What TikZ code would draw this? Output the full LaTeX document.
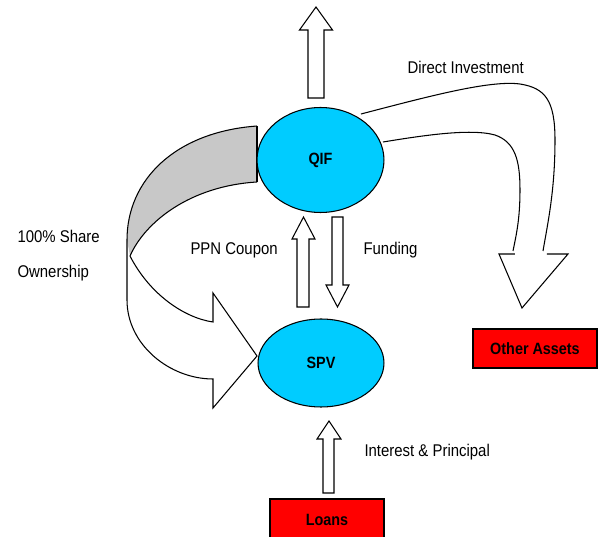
\documentclass[tikz,border=0pt]{standalone}
\usepackage{fontspec}
\setmainfont[FakeStretch=0.88]{Liberation Sans}
\usetikzlibrary{shapes.geometric}
\definecolor{fundblue}{RGB}{0,204,255}
\definecolor{ribbongray}{RGB}{200,200,200}
\tikzset{
  entity/.style={ellipse, draw, fill=fundblue, inner sep=0pt, font=\fontsize{9.3}{11}\selectfont\bfseries},
  assetbox/.style={rectangle, draw, fill=red, inner sep=0pt, font=\fontsize{9.3}{11}\selectfont\bfseries},
  lbl/.style={inner sep=0pt, anchor=west, font=\fontsize{9.66}{11}\selectfont},
  blockarrow/.style={draw, fill=white, line join=miter},
}
\begin{document}
\begin{tikzpicture}[x=0.02cm, y=-0.02cm, line width=0.6pt]
		\useasboundingbox (0,0) rectangle (600,537);
		\clip (0,0) rectangle (600,537);
		% Eierskap: grå bakside av båndet
		\fill[ribbongray] (257,126) .. controls (175,132) and (127,180) .. (127,240)
			-- (130,256) .. controls (145,222) and (190,186) .. (257,182) -- cycle;
		\draw (257,126) -- (257,182);
		% Eierskap: buet blokkpil
		\draw (257,126) .. controls (175,132) and (127,180) .. (127,240)
			-- (127,300) .. controls (127,345) and (170,379) .. (213,379)
			-- (213,408) -- (257,356) -- (213,293) -- (213,322)
			.. controls (185,318) and (150,295) .. (130,256)
			.. controls (145,222) and (190,186) .. (257,182);
		% Enheter
		\node[entity, minimum width=2.54cm, minimum height=2.1cm] (qif) at (320.5,160) {QIF};
		\node[entity, minimum width=2.52cm, minimum height=1.76cm] (spv) at (321,363) {SPV};
		\node[assetbox, minimum width=2.28cm, minimum height=0.84cm] (loans) at (327,520) {Loans};
		\node[assetbox, minimum width=2.48cm, minimum height=0.78cm] (assets) at (535,348.5) {Other Assets};
		% Pil opp fra QIF
		\draw[blockarrow] (308,98) -- (308,30) -- (299.5,30) -- (316,7) -- (332.5,30) -- (324,30) -- (324,98) -- cycle;
		% PPN-kupong og finansiering
		\draw[blockarrow] (297,307) -- (297,239) -- (292,239) -- (303.5,217) -- (315,239) -- (309,239) -- (309,307) -- cycle;
		\draw[blockarrow] (332,217) -- (332,285) -- (326,285) -- (337.5,307) -- (349,285) -- (343,285) -- (343,217) -- cycle;
		% Renter og avdrag
		\draw[blockarrow] (323,493) -- (323,439) -- (317,439) -- (329,421) -- (341,439) -- (334,439) -- (334,493) -- cycle;
		% Direkte investering
		\draw (361,114) .. controls (430,96) and (490,80) .. (520,84)
			.. controls (545,88) and (555,100) .. (555,140)
			.. controls (555,190) and (548,222) .. (543,251);
		\draw (383,142) .. controls (420,136) and (470,128) .. (495,135)
			.. controls (515,142) and (520,160) .. (520,190)
			.. controls (520,220) and (516,236) .. (513,251);
		\draw[line join=miter] (515,254) -- (499,254) -- (522,308) -- (568,254) -- (547,254);
		% Tekster
		\node[lbl, align=left, font=\fontsize{9.66}{19.8}\selectfont] (share) at (17,256) {100\% Share\\Ownership};
		\node[lbl] (ppn) at (190,250) {PPN Coupon};
		\node[lbl] (funding) at (363,250) {Funding};
		\node[lbl] (interest) at (364,452) {Interest \& Principal};
		\node[lbl] (direct) at (407,67) {Direct Investment};
	\end{tikzpicture}
\end{document}
